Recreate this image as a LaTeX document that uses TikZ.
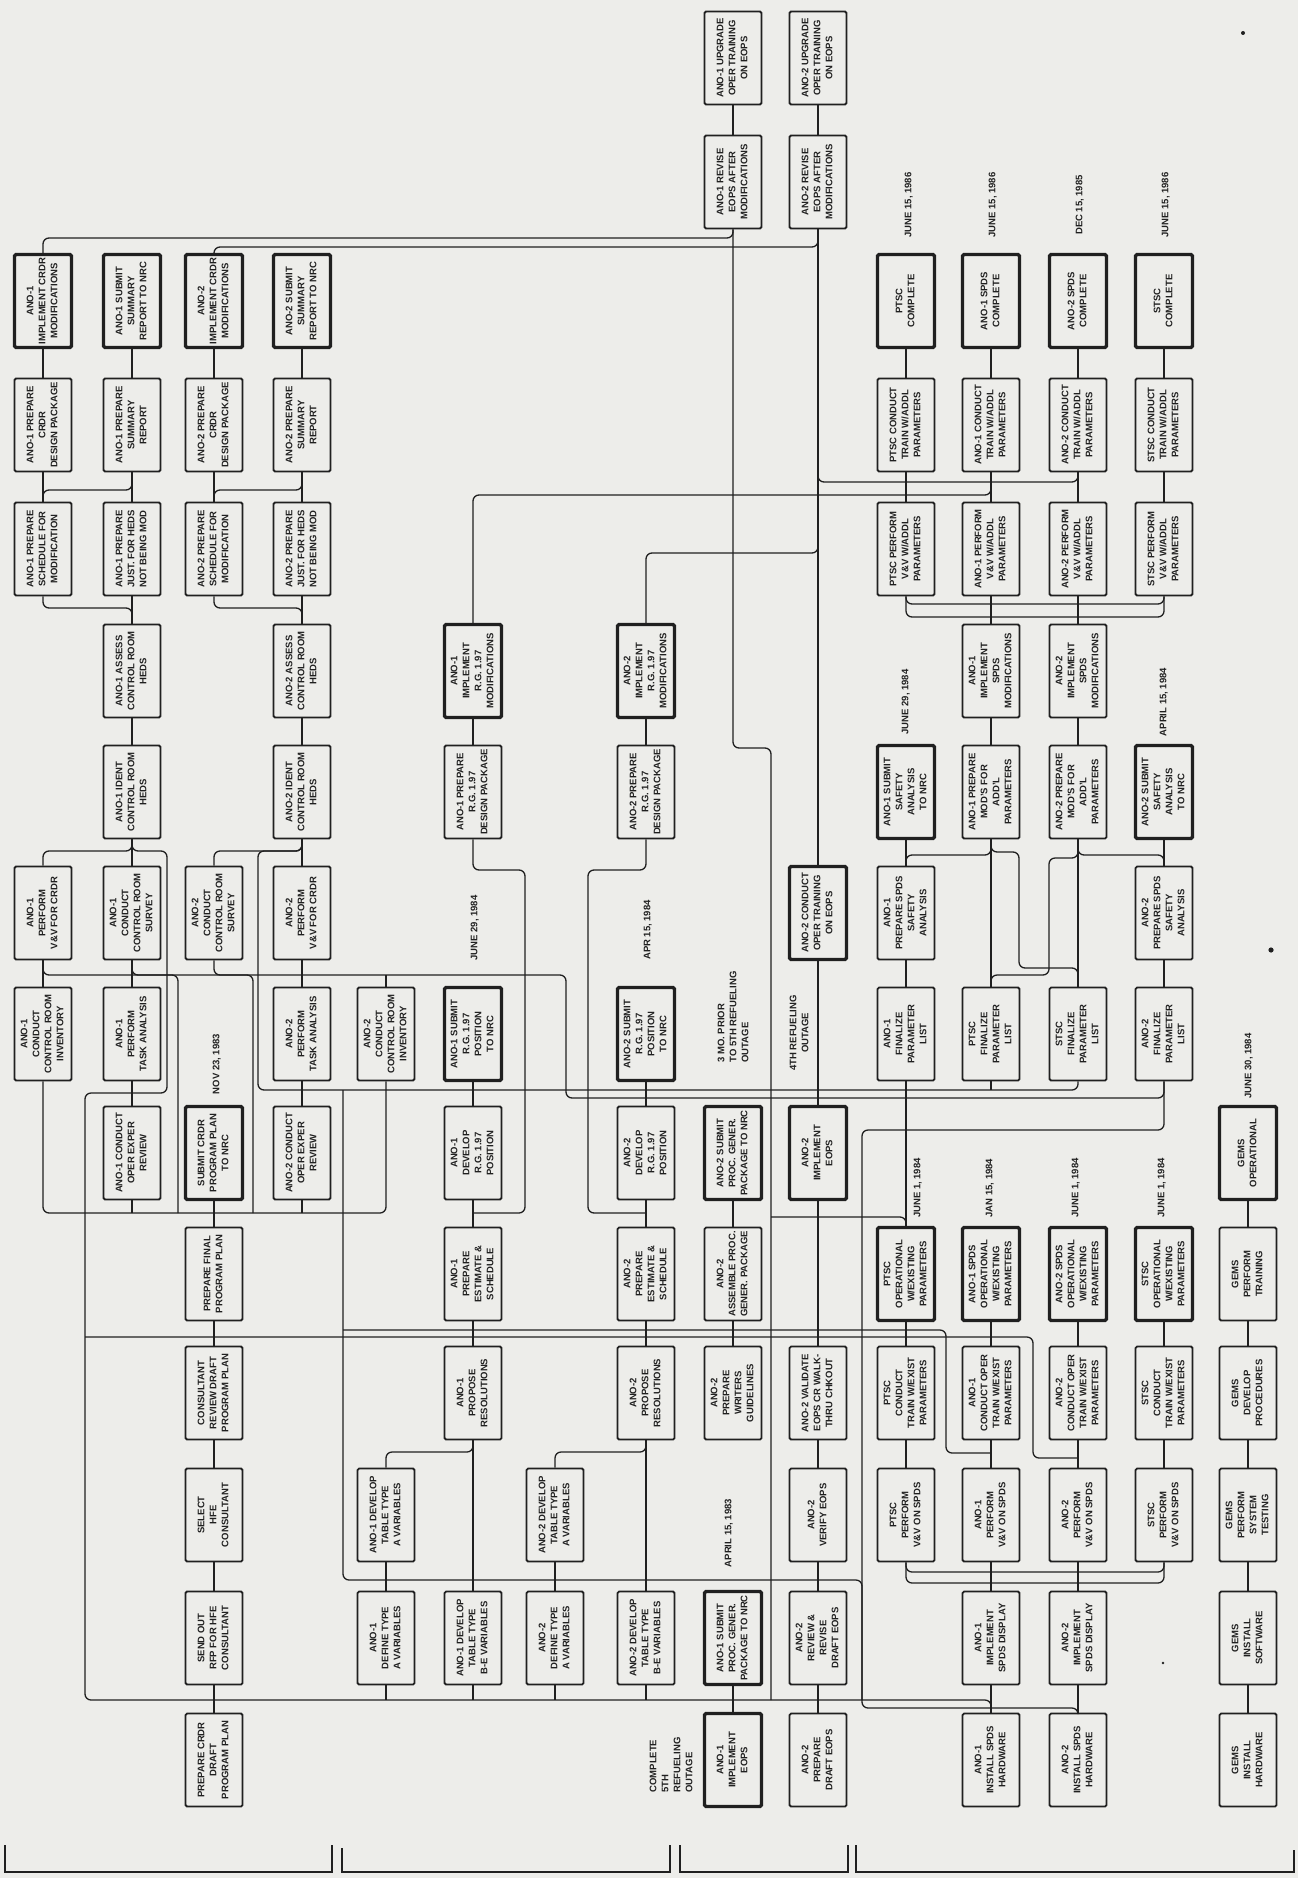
\documentclass[tikz,border=0pt]{standalone}
\usepackage{fontspec}
\setmainfont{Liberation Sans}
\usepackage{graphicx}
\usetikzlibrary{calc}
\definecolor{paper}{RGB}{237,237,234}
\definecolor{ink}{RGB}{32,32,32}
\newsavebox\lblbox
\newcommand\bt[1]{\sbox\lblbox{\begin{tabular}{@{}c@{}}#1\end{tabular}}%
  \ifdim\wd\lblbox>87pt\relax\rotatebox{90}{\resizebox{87pt}{!}{\usebox\lblbox}}%
  \else\rotatebox{90}{\usebox\lblbox}\fi}
\newcommand\dt[2]{\rotatebox{90}{\begin{tabular}{@{}#1@{}}#2\end{tabular}}}
\newcommand\B[4]{\node[#1] (#2) at (#3) {\bt{#4}};}
\newcommand\D[4]{\node[datelbl] (#1) at (#2) {\dt{#3}{#4}};}
\tikzset{
  tbox/.style={draw=ink, line width=1.8pt, rounded corners=1.5pt, fill=paper,
    minimum width=57pt, minimum height=93pt, inner sep=0pt, text=ink,
    font=\fontsize{9.5}{12}\selectfont\bfseries},
  tboxb/.style={tbox, line width=3.4pt},
  datelbl/.style={inner sep=0pt, text=ink, font=\fontsize{9.5}{12}\selectfont\bfseries},
  conn/.style={draw=ink, line width=1.3pt, rounded corners=6pt},
}
\begin{document}
\begin{tikzpicture}[x=1pt,y=-1pt]
\fill[paper] (0,0) rectangle (1298,1878);
\useasboundingbox (0,0) rectangle (1298,1878);

% ---------------- group 1 ----------------
\B{tboxb}{b0r2}{43,301}{ANO-1\\IMPLEMENT CRDR\\MODIFICATIONS}
\B{tboxb}{b1r2}{132,301}{ANO-1 SUBMIT\\SUMMARY\\REPORT TO NRC}
\B{tboxb}{b2r2}{214,301}{ANO-2\\IMPLEMENT CRDR\\MODIFICATIONS}
\B{tboxb}{b3r2}{302,301}{ANO-2 SUBMIT\\SUMMARY\\REPORT TO NRC}
\B{tbox}{b0r3}{43,425}{ANO-1 PREPARE\\CRDR\\DESIGN PACKAGE}
\B{tbox}{b1r3}{132,425}{ANO-1 PREPARE\\SUMMARY\\REPORT}
\B{tbox}{b2r3}{214,425}{ANO-2 PREPARE\\CRDR\\DESIGN PACKAGE}
\B{tbox}{b3r3}{302,425}{ANO-2 PREPARE\\SUMMARY\\REPORT}
\B{tbox}{b0r4}{43,549}{ANO-1 PREPARE\\SCHEDULE FOR\\MODIFICATION}
\B{tbox}{b1r4}{132,549}{ANO-1 PREPARE\\JUST. FOR HEDS\\NOT BEING MOD}
\B{tbox}{b2r4}{214,549}{ANO-2 PREPARE\\SCHEDULE FOR\\MODIFICATION}
\B{tbox}{b3r4}{302,549}{ANO-2 PREPARE\\JUST. FOR HEDS\\NOT BEING MOD}
\B{tbox}{b1r5}{132,671}{ANO-1 ASSESS\\CONTROL ROOM\\HEDS}
\B{tbox}{b3r5}{302,671}{ANO-2 ASSESS\\CONTROL ROOM\\HEDS}
\B{tbox}{b1r6}{132,792}{ANO-1 IDENT\\CONTROL ROOM\\HEDS}
\B{tbox}{b3r6}{302,792}{ANO-2 IDENT\\CONTROL ROOM\\HEDS}
\B{tbox}{b0r7}{43,913}{ANO-1\\PERFORM\\V\&V FOR CRDR}
\B{tbox}{b1r7}{132,913}{ANO-1\\CONDUCT\\CONTROL ROOM\\SURVEY}
\B{tbox}{b2r7}{214,913}{ANO-2\\CONDUCT\\CONTROL ROOM\\SURVEY}
\B{tbox}{b3r7}{302,913}{ANO-2\\PERFORM\\V\&V FOR CRDR}
\B{tbox}{b0r8}{43,1034}{ANO-1\\CONDUCT\\CONTROL ROOM\\INVENTORY}
\B{tbox}{b1r8}{132,1034}{ANO-1\\PERFORM\\TASK ANALYSIS}
\B{tbox}{b3r8}{302,1034}{ANO-2\\PERFORM\\TASK ANALYSIS}
\B{tbox}{b4r8}{386,1034}{ANO-2\\CONDUCT\\CONTROL ROOM\\INVENTORY}
\B{tbox}{b1r9}{132,1153}{ANO-1 CONDUCT\\OPER EXPER\\REVIEW}
\B{tboxb}{b2r9}{214,1153}{SUBMIT CRDR\\PROGRAM PLAN\\TO NRC}
\B{tbox}{b3r9}{302,1153}{ANO-2 CONDUCT\\OPER EXPER\\REVIEW}
\B{tbox}{b2r10}{214,1274}{PREPARE FINAL\\PROGRAM PLAN}
\B{tbox}{b2r11}{214,1393}{CONSULTANT\\REVIEW DRAFT\\PROGRAM PLAN}
\B{tbox}{b2r12}{214,1515}{SELECT\\HFE\\CONSULTANT}
\B{tbox}{b2r13}{214,1638}{SEND OUT\\RFP FOR HFE\\CONSULTANT}
\B{tbox}{b2r14}{214,1760}{PREPARE CRDR\\DRAFT\\PROGRAM PLAN}

% ---------------- group 2 ----------------
\B{tboxb}{b5r5}{473,671}{ANO-1\\IMPLEMENT\\R.G. 1.97\\MODIFICATIONS}
\B{tboxb}{b7r5}{646,671}{ANO-2\\IMPLEMENT\\R.G. 1.97\\MODIFICATIONS}
\B{tbox}{b5r6}{473,792}{ANO-1 PREPARE\\R.G. 1.97\\DESIGN PACKAGE}
\B{tbox}{b7r6}{646,792}{ANO-2 PREPARE\\R.G. 1.97\\DESIGN PACKAGE}
\B{tboxb}{b5r8}{473,1034}{ANO-1 SUBMIT\\R.G. 1.97\\POSITION\\TO NRC}
\B{tboxb}{b7r8}{646,1034}{ANO-2 SUBMIT\\R.G. 1.97\\POSITION\\TO NRC}
\B{tbox}{b5r9}{473,1153}{ANO-1\\DEVELOP\\R.G. 1.97\\POSITION}
\B{tbox}{b7r9}{646,1153}{ANO-2\\DEVELOP\\R.G. 1.97\\POSITION}
\B{tbox}{b5r10}{473,1274}{ANO-1\\PREPARE\\ESTIMATE \&\\SCHEDULE}
\B{tbox}{b7r10}{646,1274}{ANO-2\\PREPARE\\ESTIMATE \&\\SCHEDULE}
\B{tbox}{b5r11}{473,1393}{ANO-1\\PROPOSE\\RESOLUTIONS}
\B{tbox}{b7r11}{646,1393}{ANO-2\\PROPOSE\\RESOLUTIONS}
\B{tbox}{b4r12}{386,1515}{ANO-1 DEVELOP\\TABLE TYPE\\A VARIABLES}
\B{tbox}{b6r12}{555,1515}{ANO-2 DEVELOP\\TABLE TYPE\\A VARIABLES}
\B{tbox}{b4r13}{386,1638}{ANO-1\\DEFINE TYPE\\A VARIABLES}
\B{tbox}{b5r13}{473,1638}{ANO-1 DEVELOP\\TABLE TYPE\\B-E VARIABLES}
\B{tbox}{b6r13}{555,1638}{ANO-2\\DEFINE TYPE\\A VARIABLES}
\B{tbox}{b7r13}{646,1638}{ANO-2 DEVELOP\\TABLE TYPE\\B-E VARIABLES}

% ---------------- group 3 ----------------
\B{tbox}{b8r0}{733,58}{ANO-1 UPGRADE\\OPER TRAINING\\ON EOPS}
\B{tbox}{b9r0}{818,58}{ANO-2 UPGRADE\\OPER TRAINING\\ON EOPS}
\B{tbox}{b8r1}{733,182}{ANO-1 REVISE\\EOPS AFTER\\MODIFICATIONS}
\B{tbox}{b9r1}{818,182}{ANO-2 REVISE\\EOPS AFTER\\MODIFICATIONS}
\B{tboxb}{b9r7}{818,913}{ANO-2 CONDUCT\\OPER TRAINING\\ON EOPS}
\B{tboxb}{b8r9}{733,1153}{ANO-2 SUBMIT\\PROC. GENER.\\PACKAGE TO NRC}
\B{tboxb}{b9r9}{818,1153}{ANO-2\\IMPLEMENT\\EOPS}
\B{tbox}{b8r10}{733,1274}{ANO-2\\ASSEMBLE PROC.\\GENER. PACKAGE}
\B{tbox}{b8r11}{733,1393}{ANO-2\\PREPARE\\WRITERS\\GUIDELINES}
\B{tbox}{b9r11}{818,1393}{ANO-2 VALIDATE\\EOPS CR WALK-\\THRU CHKOUT}
\B{tbox}{b9r12}{818,1515}{ANO-2\\VERIFY EOPS}
\B{tboxb}{b8r13}{733,1638}{ANO-1 SUBMIT\\PROC. GENER.\\PACKAGE TO NRC}
\B{tbox}{b9r13}{818,1638}{ANO-2\\REVIEW \&\\REVISE\\DRAFT EOPS}
\B{tboxb}{b8r14}{733,1760}{ANO-1\\IMPLEMENT\\EOPS}
\B{tbox}{b9r14}{818,1760}{ANO-2\\PREPARE\\DRAFT EOPS}

% ---------------- group 4 ----------------
\B{tboxb}{b10r2}{906,301}{PTSC\\COMPLETE}
\B{tboxb}{b11r2}{991,301}{ANO-1 SPDS\\COMPLETE}
\B{tboxb}{b12r2}{1078,301}{ANO-2 SPDS\\COMPLETE}
\B{tboxb}{b13r2}{1164,301}{STSC\\COMPLETE}
\B{tbox}{b10r3}{906,425}{PTSC CONDUCT\\TRAIN W/ADDL\\PARAMETERS}
\B{tbox}{b11r3}{991,425}{ANO-1 CONDUCT\\TRAIN W/ADDL\\PARAMETERS}
\B{tbox}{b12r3}{1078,425}{ANO-2 CONDUCT\\TRAIN W/ADDL\\PARAMETERS}
\B{tbox}{b13r3}{1164,425}{STSC CONDUCT\\TRAIN W/ADDL\\PARAMETERS}
\B{tbox}{b10r4}{906,549}{PTSC PERFORM\\V\&V W/ADDL\\PARAMETERS}
\B{tbox}{b11r4}{991,549}{ANO-1 PERFORM\\V\&V W/ADDL\\PARAMETERS}
\B{tbox}{b12r4}{1078,549}{ANO-2 PERFORM\\V\&V W/ADDL\\PARAMETERS}
\B{tbox}{b13r4}{1164,549}{STSC PERFORM\\V\&V W/ADDL\\PARAMETERS}
\B{tbox}{b11r5}{991,671}{ANO-1\\IMPLEMENT\\SPDS\\MODIFICATIONS}
\B{tbox}{b12r5}{1078,671}{ANO-2\\IMPLEMENT\\SPDS\\MODIFICATIONS}
\B{tboxb}{b10r6}{906,792}{ANO-1 SUBMIT\\SAFETY\\ANALYSIS\\TO NRC}
\B{tbox}{b11r6}{991,792}{ANO-1 PREPARE\\MOD'S FOR\\ADD'L\\PARAMETERS}
\B{tbox}{b12r6}{1078,792}{ANO-2 PREPARE\\MOD'S FOR\\ADD'L\\PARAMETERS}
\B{tboxb}{b13r6}{1164,792}{ANO-2 SUBMIT\\SAFETY\\ANALYSIS\\TO NRC}
\B{tbox}{b10r7}{906,913}{ANO-1\\PREPARE SPDS\\SAFETY\\ANALYSIS}
\B{tbox}{b13r7}{1164,913}{ANO-2\\PREPARE SPDS\\SAFETY\\ANALYSIS}
\B{tbox}{b10r8}{906,1034}{ANO-1\\FINALIZE\\PARAMETER\\LIST}
\B{tbox}{b11r8}{991,1034}{PTSC\\FINALIZE\\PARAMETER\\LIST}
\B{tbox}{b12r8}{1078,1034}{STSC\\FINALIZE\\PARAMETER\\LIST}
\B{tbox}{b13r8}{1164,1034}{ANO-2\\FINALIZE\\PARAMETER\\LIST}
\B{tboxb}{b14r9}{1248,1153}{GEMS\\OPERATIONAL}
\B{tboxb}{b10r10}{906,1274}{PTSC\\OPERATIONAL\\W/EXISTING\\PARAMETERS}
\B{tboxb}{b11r10}{991,1274}{ANO-1 SPDS\\OPERATIONAL\\W/EXISTING\\PARAMETERS}
\B{tboxb}{b12r10}{1078,1274}{ANO-2 SPDS\\OPERATIONAL\\W/EXISTING\\PARAMETERS}
\B{tboxb}{b13r10}{1164,1274}{STSC\\OPERATIONAL\\W/EXISTING\\PARAMETERS}
\B{tbox}{b14r10}{1248,1274}{GEMS\\PERFORM\\TRAINING}
\B{tbox}{b10r11}{906,1393}{PTSC\\CONDUCT\\TRAIN W/EXIST\\PARAMETERS}
\B{tbox}{b11r11}{991,1393}{ANO-1\\CONDUCT OPER\\TRAIN W/EXIST\\PARAMETERS}
\B{tbox}{b12r11}{1078,1393}{ANO-2\\CONDUCT OPER\\TRAIN W/EXIST\\PARAMETERS}
\B{tbox}{b13r11}{1164,1393}{STSC\\CONDUCT\\TRAIN W/EXIST\\PARAMETERS}
\B{tbox}{b14r11}{1248,1393}{GEMS\\DEVELOP\\PROCEDURES}
\B{tbox}{b10r12}{906,1515}{PTSC\\PERFORM\\V\&V ON SPDS}
\B{tbox}{b11r12}{991,1515}{ANO-1\\PERFORM\\V\&V ON SPDS}
\B{tbox}{b12r12}{1078,1515}{ANO-2\\PERFORM\\V\&V ON SPDS}
\B{tbox}{b13r12}{1164,1515}{STSC\\PERFORM\\V\&V ON SPDS}
\B{tbox}{b14r12}{1248,1515}{GEMS\\PERFORM\\SYSTEM\\TESTING}
\B{tbox}{b11r13}{991,1638}{ANO-1\\IMPLEMENT\\SPDS DISPLAY}
\B{tbox}{b12r13}{1078,1638}{ANO-2\\IMPLEMENT\\SPDS DISPLAY}
\B{tbox}{b14r13}{1248,1638}{GEMS\\INSTALL\\SOFTWARE}
\B{tbox}{b11r14}{991,1760}{ANO-1\\INSTALL SPDS\\HARDWARE}
\B{tbox}{b12r14}{1078,1760}{ANO-2\\INSTALL SPDS\\HARDWARE}
\B{tbox}{b14r14}{1248,1760}{GEMS\\INSTALL\\HARDWARE}

% ---------------- dates and labels ----------------
\D{d1}{909,205}{c}{JUNE 15, 1986}
\D{d2}{993,205}{c}{JUNE 15, 1986}
\D{d3}{1080,205}{c}{DEC 15, 1985}
\D{d4}{1166,205}{c}{JUNE 15, 1986}
\D{d5}{906,702}{c}{JUNE 29, 1984}
\D{d6}{1164,702}{c}{APRIL 15, 1984}
\D{d7}{918,1188}{c}{JUNE 1, 1984}
\D{d8}{990,1188}{c}{JAN 15, 1984}
\D{d9}{1076,1188}{c}{JUNE 1, 1984}
\D{d10}{1162,1188}{c}{JUNE 1, 1984}
\D{d11}{1249,1066}{c}{JUNE 30, 1984}
\D{d12}{217,1064}{c}{NOV 23, 1983}
\D{d13}{475,928}{c}{JUNE 29, 1984}
\D{d14}{648,930}{c}{APR 15, 1984}
\D{d15}{729,1533}{c}{APRIL 15, 1983}
\D{l1}{734,1017}{l}{3 MO. PRIOR\\TO 5TH REFUELING\\OUTAGE}
\D{l2}{800,1033}{c}{4TH REFUELING\\OUTAGE}
\D{l3}{672,1765}{l}{COMPLETE\\5TH\\REFUELING\\OUTAGE}

% ---------------- straight connectors ----------------
\foreach \a/\b in {b0r2/b0r3, b0r3/b0r4, b1r2/b1r3, b1r3/b1r4, b1r4/b1r5, b1r5/b1r6,
  b1r6/b1r7, b1r7/b1r8, b1r8/b1r9, b2r2/b2r3, b2r3/b2r4, b3r2/b3r3, b3r3/b3r4,
  b3r4/b3r5, b3r5/b3r6, b3r6/b3r7, b3r7/b3r8, b3r8/b3r9, b0r7/b0r8, b2r9/b2r10,
  b2r10/b2r11, b2r11/b2r12, b2r12/b2r13, b2r13/b2r14,
  b5r5/b5r6, b7r5/b7r6, b5r8/b5r9, b5r9/b5r10, b5r10/b5r11, b5r11/b5r13,
  b7r8/b7r9, b7r9/b7r10, b7r10/b7r11, b7r11/b7r13, b4r12/b4r13, b6r12/b6r13,
  b8r0/b8r1, b9r0/b9r1, b9r1/b9r7, b9r7/b9r9, b9r9/b9r11, b9r11/b9r12,
  b9r12/b9r13, b9r13/b9r14, b8r9/b8r10, b8r10/b8r11, b8r13/b8r14,
  b10r2/b10r3, b11r2/b11r3, b12r2/b12r3, b13r2/b13r3, b10r3/b10r4, b11r3/b11r4,
  b12r3/b12r4, b13r3/b13r4, b11r4/b11r5, b12r4/b12r5, b11r5/b11r6, b12r5/b12r6,
  b10r6/b10r7, b13r6/b13r7, b10r7/b10r8, b13r7/b13r8, b11r6/b11r8, b12r6/b12r8,
  b10r8/b10r10, b10r10/b10r11, b11r10/b11r11, b12r10/b12r11, b13r10/b13r11,
  b10r11/b10r12, b11r11/b11r12, b12r11/b12r12, b13r11/b13r12, b11r12/b11r13,
  b12r12/b12r13, b11r13/b11r14, b12r13/b12r14, b14r9/b14r10, b14r10/b14r11,
  b14r11/b14r12, b14r12/b14r13, b14r13/b14r14}
  \draw[conn] (\a.south) -- (\b.north);

% ---------------- routed connectors ----------------
\draw[conn] (b0r2.north) -- (43,238) -- (733,238) -- (b8r1.south);
\draw[conn] (b2r2.north) -- (214,247) -- (818,247) -- (b9r1.south);
\draw[conn] (b1r3.south) -- (132,490) -- (43,490) -- (b0r4.north);
\draw[conn] (b3r3.south) -- (302,490) -- (214,490) -- (b2r4.north);
\draw[conn] (b0r4.south) -- (43,608) -- (132,608) -- (b1r5.north);
\draw[conn] (b2r4.south) -- (214,608) -- (302,608) -- (b3r5.north);
\draw[conn] (b1r6.south) -- (132,851) -- (43,851) -- (b0r7.north);
\draw[conn] (b1r6.south) -- (132,851) -- (167,851) -- (167,1093) -- (85,1093)
  -- (85,1700) -- (991,1700) -- (b11r14.north);
\draw[conn] (b3r6.south) -- (302,851) -- (214,851) -- (b2r7.north);
\draw[conn] (b3r6.south) -- (302,851) -- (258,851) -- (258,1090) -- (1078,1090) -- (b12r8.south);
\draw[conn] (b5r9.north) -- (473,1090);
\draw[conn] (b7r9.north) -- (646,1090);
\draw[conn] (b10r8.south) -- (906,1090);
\draw[conn] (b11r8.south) -- (991,1090);
\draw[conn] (b0r7.south) -- (43,975) -- (566,975) -- (566,1098) -- (1164,1098) -- (b13r8.south);
\draw[conn] (b4r8.north) -- (386,975);
\draw[conn] (b1r7.south) -- (132,975) -- (178,975) -- (178,1213);
\draw[conn] (b2r7.south) -- (214,975) -- (253,975) -- (253,1213);
\draw[conn] (b0r8.south) -- (43,1213) -- (386,1213) -- (b4r8.south);
\draw[conn] (b1r9.south) -- (132,1213);
\draw[conn] (b3r9.south) -- (302,1213);
\draw[conn] (343,1090) -- (343,1580) -- (862,1580) -- (862,1700);
\draw[conn] (343,1330) -- (946,1330) -- (946,1453) -- (b11r11.south |- 0,1453);
\draw[conn] (85,1337) -- (1033,1337) -- (1033,1458) -- (b12r11.south |- 0,1458);
\draw[conn] (b5r11.south) -- (473,1452) -- (386,1452) -- (b4r12.north);
\draw[conn] (b7r11.south) -- (646,1452) -- (555,1452) -- (b6r12.north);
\draw[conn] (b4r13.south) -- (386,1700);
\draw[conn] (b5r13.south) -- (473,1700);
\draw[conn] (b6r13.south) -- (555,1700);
\draw[conn] (b7r13.south) -- (646,1700);
\draw[conn] (b13r8.south) -- (1164,1130) -- (862,1130) -- (862,1708) -- (1078,1708) -- (b12r14.north);
\draw[conn] (b8r1.south) -- (733,748) -- (771,748) -- (771,1700);
\draw[conn] (771,1217) -- (906,1217) -- (b10r10.north);
\draw[conn] (b5r5.north) -- (473,495) -- (991,495) -- (b11r3.south);
\draw[conn] (b9r1.south) -- (818,482) -- (1078,482) -- (b12r3.south);
\draw[conn] (b7r5.north) -- (646,553) -- (818,553) -- (b9r1.south);
\draw[conn] (b10r4.south) -- (906,604) -- (1164,604) -- (b13r4.south);
\draw[conn] (b10r4.south) -- (906,617) -- (1164,617) -- (b13r4.south);
\draw[conn] (b10r12.south) -- (906,1572) -- (1164,1572) -- (b13r12.south);
\draw[conn] (b10r12.south) -- (906,1583) -- (1164,1583) -- (b13r12.south);
\draw[conn] (b11r6.south) -- (991,855) -- (906,855) -- (b10r7.north);
\draw[conn] (b12r6.south) -- (1078,855) -- (1164,855) -- (b13r7.north);
\draw[conn] (b11r6.south) -- (991,852) -- (1019,852) -- (1019,968) -- (1078,968) -- (b12r8.north);
\draw[conn] (b12r6.south) -- (1078,858) -- (1049,858) -- (1049,975) -- (991,975) -- (b11r8.north);
\draw[conn] (b5r6.south) -- (473,870) -- (525,870) -- (525,1213) -- (b5r9.south |- 0,1213);
\draw[conn] (b7r6.south) -- (646,870) -- (588,870) -- (588,1213) -- (b7r9.south |- 0,1213);

% ---------------- group brackets ----------------
\draw[ink, line width=1.4pt] (5,1845) -- (5,1872) -- (332,1872) -- (332,1845);
\draw[ink, line width=1.4pt] (342,1848) -- (342,1872) -- (670,1872) -- (670,1845);
\draw[ink, line width=1.4pt] (680,1845) -- (680,1872) -- (848,1872) -- (848,1845);
\draw[ink, line width=1.4pt] (856,1845) -- (856,1872) -- (1294,1872) -- (1294,1850);

% specks
\fill[ink] (1243,33) circle (2);
\fill[ink] (1271,950) circle (2.6);
\fill[ink] (1163,1663) circle (1.4);
\end{tikzpicture}
\end{document}
